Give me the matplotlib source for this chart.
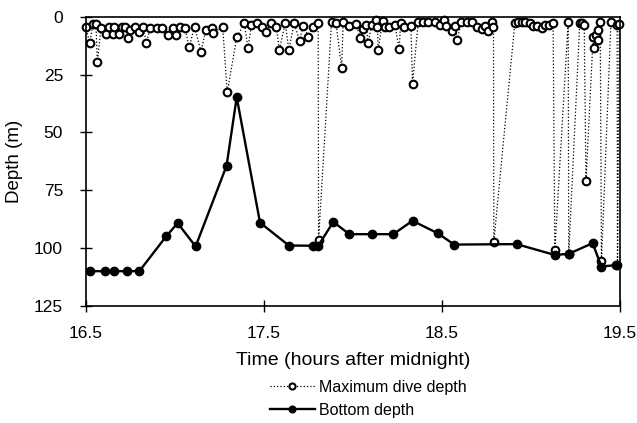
import matplotlib
matplotlib.use("Agg")
import matplotlib.pyplot as plt

plt.rcParams['font.family'] = ['Liberation Sans', 'DejaVu Sans']

# maximum depth of each dive (time in hours, depth in m)
dive_time = [16.50, 16.52, 16.54, 16.556, 16.564, 16.584, 16.612, 16.63, 16.65, 16.66,
             16.685, 16.70, 16.72, 16.734, 16.75, 16.775, 16.80, 16.82, 16.84, 16.86,
             16.897, 16.925, 16.96, 16.99, 17.005, 17.03, 17.056, 17.08, 17.11, 17.146,
             17.174, 17.206, 17.215, 17.268, 17.294, 17.347, 17.39, 17.41, 17.43, 17.46,
             17.487, 17.51, 17.54, 17.57, 17.586, 17.62, 17.64, 17.67, 17.70, 17.72,
             17.75, 17.777, 17.805, 17.807, 17.88, 17.905, 17.937, 17.945, 17.98, 18.02,
             18.04, 18.055, 18.073, 18.086, 18.105, 18.13, 18.138, 18.142, 18.167, 18.18,
             18.204, 18.236, 18.26, 18.268, 18.29, 18.326, 18.335, 18.367, 18.395, 18.423,
             18.46, 18.49, 18.51, 18.526, 18.555, 18.573, 18.586, 18.61, 18.64, 18.667,
             18.70, 18.724, 18.74, 18.76, 18.78, 18.79, 18.792, 18.91, 18.93, 18.95,
             18.97, 18.994, 19.01, 19.035, 19.06, 19.08, 19.10, 19.125, 19.135, 19.21,
             19.213, 19.275, 19.29, 19.30, 19.31, 19.35, 19.355, 19.365, 19.375, 19.38,
             19.39, 19.397, 19.45, 19.485, 19.487, 19.497]
dive_depth = [4.2, 11.4, 3.2, 3.2, 19.6, 4.9, 7.5, 4.3, 7.5, 4.2,
              7.5, 4.2, 4.2, 9.2, 5.6, 4.2, 6.4, 4.2, 11.4, 4.9,
              4.9, 4.9, 7.8, 4.9, 7.8, 4.2, 4.9, 13.1, 4.2, 15.0,
              5.6, 4.9, 7.0, 4.2, 32.7, 8.9, 2.7, 13.3, 3.5, 2.7,
              4.2, 6.6, 2.7, 4.2, 14.3, 2.7, 14.3, 2.7, 10.4, 3.8,
              8.5, 4.2, 2.7, 96.5, 2.3, 2.7, 22.2, 2.3, 3.8, 3.2,
              9.2, 5.2, 3.5, 11.1, 3.5, 1.3, 4.2, 14.3, 1.7, 4.2,
              4.5, 3.5, 13.8, 2.7, 4.2, 3.8, 29.1, 2.3, 2.2, 2.3,
              2.3, 3.5, 1.3, 3.8, 6.1, 3.8, 10.0, 2.3, 2.3, 2.3,
              4.2, 5.2, 3.8, 6.1, 2.2, 4.2, 97.3, 2.7, 2.3, 2.3,
              2.3, 2.7, 3.8, 3.8, 4.9, 3.5, 3.5, 2.7, 100.8, 2.0,
              102.5, 2.7, 2.7, 3.5, 71.0, 8.7, 13.4, 7.8, 10.0, 5.6,
              2.3, 105.8, 2.3, 3.5, 107.4, 3.0]

# sea bottom depth
bottom_time = [16.52, 16.607, 16.66, 16.73, 16.80, 16.95, 17.015, 17.116, 17.29, 17.347,
               17.478, 17.64, 17.777, 17.805, 17.89, 17.98, 18.105, 18.227, 18.335, 18.479,
               18.569, 18.92, 19.135, 19.213, 19.347, 19.397, 19.476]
bottom_depth = [110, 110, 110, 110, 110, 95, 89.2, 99.3, 64.4, 34.7,
                89, 98.9, 99, 99, 88.7, 94, 94, 94, 88.2, 93.7,
                98.5, 98.3, 103, 102.5, 97.9, 108, 107.4]

fig = plt.figure(figsize=(6.37, 4.23), dpi=100)
ax = fig.add_axes([0.135, 0.277, 0.838, 0.683])

ax.plot(dive_time, dive_depth, color='black', linestyle=':', linewidth=0.9,
        marker='o', markersize=5.5, markerfacecolor='white', markeredgecolor='black',
        markeredgewidth=1.5, label='Maximum dive depth', zorder=2, clip_on=False)
ax.plot(bottom_time, bottom_depth, color='black', linestyle='-', linewidth=1.7,
        marker='o', markersize=6, markerfacecolor='black', markeredgecolor='black',
        label='Bottom depth', zorder=3)

ax.set_xlim(16.5, 19.5)
ax.set_ylim(125, 0)
ax.set_xticks([16.5, 17.5, 18.5, 19.5])
ax.set_yticks([0, 25, 50, 75, 100, 125])
ax.tick_params(direction='inout', length=9, width=1, labelsize=12.5)
ax.tick_params(axis='y', pad=12)
ax.tick_params(axis='x', pad=10)
for s in ax.spines.values():
    s.set_linewidth(1.2)

ax.set_xlabel('Time (hours after midnight)', fontsize=14, labelpad=8)
ax.set_ylabel('Depth (m)', fontsize=13.5, labelpad=8)

fig.legend(loc='upper left', bbox_to_anchor=(262 / 637, 1 - 372 / 423),
           frameon=False, fontsize=11.5, handlelength=2.8, handletextpad=0.3,
           labelspacing=0.5, markerscale=0.8, borderpad=0)

fig.savefig('out.png', dpi=100)
